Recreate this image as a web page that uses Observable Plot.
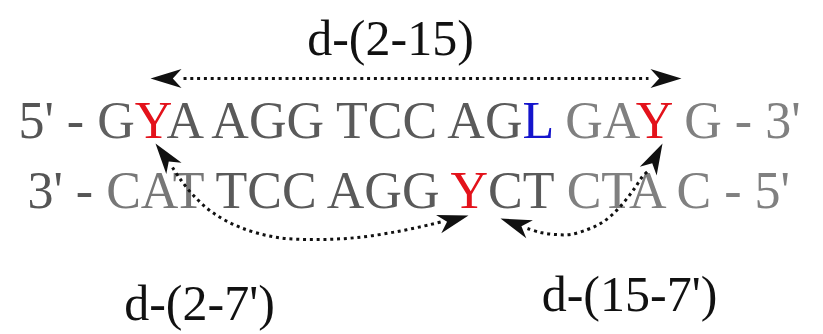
<!DOCTYPE html>
<html><head><meta charset="utf-8">
<script src="https://cdn.jsdelivr.net/npm/d3@7"></script>
<script src="https://cdn.jsdelivr.net/npm/@observablehq/plot@0.6"></script>
<style>body{margin:0;background:#fff}#chart svg{display:block}</style>
</head><body><div id="chart"></div>
<script>
// ---- strands (coloured segments) ----
const strand1Seg = ["5' - ", "G", "Y", "A AGG TCC AG", "L", " GA", "Y", " G - 3'"];
const strand1Col = ["#555555", "#606060", "#e3121b", "#5a5a5a", "#1414cc", "#808080", "#e3121b", "#808080"];
const strand2Seg = ["3' - ", "CAT", " TCC AGG ", "Y", "CT", " CTA C - 5'"];
const strand2Col = ["#555555", "#777777", "#5a5a5a", "#e3121b", "#5a5a5a", "#808080"];
const strandX = [18, 27];
const strandY = [137, 207];

// ---- distance labels ----
const labelText = ["d-(2-15)", "d-(2-7')", "d-(15-7')"];
const labelX = [390, 199, 629];
const labelY = [54, 319, 310];

// ---- dotted paths of the three distance arrows ----
const pathArc = ["d-(2-15)", "d-(2-15)",
  "d-(2-7')", "d-(2-7')", "d-(2-7')", "d-(2-7')", "d-(2-7')", "d-(2-7')", "d-(2-7')", "d-(2-7')", "d-(2-7')", "d-(2-7')", "d-(2-7')",
  "d-(15-7')", "d-(15-7')", "d-(15-7')", "d-(15-7')", "d-(15-7')", "d-(15-7')", "d-(15-7')", "d-(15-7')", "d-(15-7')", "d-(15-7')", "d-(15-7')"];
const pathX = [183, 648,
  172, 180, 193, 212, 240, 277, 317, 357, 397, 430, 442,
  527, 540, 555, 570, 587, 600, 612, 624, 634, 642, 648];
const pathY = [78, 78,
  167, 179, 195, 212, 227, 237, 239, 237, 231, 224, 221,
  228, 232, 234, 234, 229, 223, 214, 201, 188, 176, 170];

// ---- arrow heads: tip and the point they come from ----
const headX = [150, 681, 155, 468, 500, 662];
const headY = [78, 78, 143, 215, 218, 143];
const headFromX = [183, 648, 172, 440, 527, 648];
const headFromY = [78, 78, 166, 223, 228, 170];

const strands = [strand1Seg, strand2Seg].map((seg, i) => ({
  text: seg.join(""), seg, col: [strand1Col, strand2Col][i], x: strandX[i], y: strandY[i]
}));
const labels = labelText.map((t, i) => ({text: t, x: labelX[i], y: labelY[i]}));
const path = pathArc.map((a, i) => ({arc: a, x: pathX[i], y: pathY[i]}));
const heads = headX.map((x, i) => ({
  x, y: headY[i],
  rot: Math.atan2(x - headFromX[i], -(headY[i] - headFromY[i])) * 180 / Math.PI,
  len: Math.hypot(x - headFromX[i], headY[i] - headFromY[i])
}));

// stealth arrow head, tip at origin pointing up
const stealth = {
  draw(ctx, size) {
    const L = 31, W = 19;
    ctx.moveTo(0, 0);
    ctx.lineTo(W / 2, L);
    ctx.lineTo(0, L * 0.72);
    ctx.lineTo(-W / 2, L);
    ctx.closePath();
  }
};

const serif = "'Liberation Serif', 'Times New Roman', serif";

const chart = Plot.plot({
  width: 823,
  height: 334,
  margin: 0,
  style: {background: "#fff"},
  x: {domain: [0, 823], range: [0, 823], axis: null},
  y: {domain: [0, 334], range: [0, 334], axis: null},
  marks: [
    Plot.text(strands, {x: "x", y: "y", text: "text", textAnchor: "start", lineAnchor: "bottom",
      fontSize: 52, fontFamily: serif, fill: "#5a5a5a"}),
    Plot.text(labels, {x: "x", y: "y", text: "text", textAnchor: "middle", lineAnchor: "bottom",
      fontSize: 50, fontFamily: serif, fill: "#111"}),
    Plot.line(path, {x: "x", y: "y", z: "arc", curve: "catmull-rom", stroke: "#111",
      strokeWidth: 3, strokeDasharray: "3,3.8", strokeLinecap: "butt"}),
    Plot.dot(heads, {x: "x", y: "y", rotate: "rot", symbol: stealth, fill: "#111", stroke: "none", r: 10})
  ]
});

// colour the individual residues of each strand
d3.select(chart).selectAll("text").each(function () {
  const s = strands.find(d => d.text === this.textContent);
  if (!s) return;
  const sel = d3.select(this);
  sel.text(null).style("white-space", "pre");
  s.seg.forEach((t, k) => sel.append("tspan").attr("fill", s.col[k]).text(t));
});

document.getElementById("chart").append(chart);
</script>
</body></html>
